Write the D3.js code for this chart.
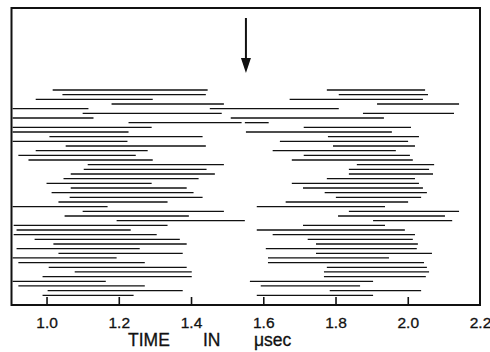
<!DOCTYPE html>
<html>
<head>
<meta charset="utf-8">
<script src="https://cdn.jsdelivr.net/npm/d3@7"></script>
<style>
  html, body { margin: 0; padding: 0; background: #fff; }
  svg { display: block; }
</style>
</head>
<body>
<div id="chart"></div>
<script>
// ---- data (time in microseconds), one row per trace, top to bottom ----
const timeTicks = [1.0, 1.2, 1.4, 1.6, 1.8, 2.0, 2.2];
const tickLabels = ["1.0", "1.2", "1.4", "1.6", "1.8", "2.0", "2.2"];
const arrowTime = 1.552;

const earlyStart = [1.017,1.044,0.970,1.180,0.906,1.100,0.906,1.227,0.906,0.906,
                    1.008,0.906,1.053,0.970,0.922,0.950,1.114,1.103,1.067,1.047,
                    1.000,1.067,1.014,1.064,1.033,0.906,1.100,1.050,1.194,0.909,
                    0.917,0.909,0.967,1.019,0.917,1.033,0.906,0.922,1.006,1.078,
                    0.989,0.906,0.922,1.003,0.989];
const earlyEnd   = [1.446,1.441,1.294,1.491,1.116,1.485,1.130,1.540,1.291,1.227,
                    1.432,1.224,1.441,1.280,1.247,1.294,1.491,1.443,1.466,1.421,
                    1.291,1.388,1.407,1.432,1.335,1.169,1.491,1.394,1.549,1.335,
                    1.233,1.305,1.369,1.388,1.258,1.377,1.194,1.272,1.388,1.402,
                    1.402,1.164,1.272,1.377,1.241];
const lateStart  = [1.776,1.809,1.673,1.915,1.452,1.876,1.510,1.549,1.712,1.552,
                    1.779,1.646,1.793,1.626,1.712,1.679,1.859,1.837,1.837,1.776,
                    1.679,1.710,1.770,1.801,1.662,1.582,1.837,1.807,1.904,1.710,
                    1.582,1.626,1.723,1.746,1.607,1.746,1.613,1.613,1.776,1.768,
                    1.768,1.563,1.593,1.784,1.582];
const lateEnd    = [2.048,2.056,2.042,2.142,1.809,2.128,1.934,1.615,2.009,1.956,
                    2.031,2.001,2.020,1.967,2.006,2.014,2.073,2.059,2.070,2.020,
                    2.031,2.042,2.053,2.037,2.001,1.937,2.142,2.103,2.123,1.937,
                    1.992,2.020,2.014,2.028,2.025,2.067,1.948,2.045,2.053,2.059,
                    2.050,1.904,1.868,2.037,1.904];

const W = 490, H = 352;
const frameL = 11.5, frameR = 480, frameT = 8, frameB = 305;

const svg = d3.select("#chart").append("svg")
  .attr("width", W).attr("height", H)
  .style("background", "#fff");

const x = d3.scaleLinear().domain([0.903, 2.2]).range([frameL, frameR]);
const rows = d3.range(earlyStart.length);
const y = d3.scaleLinear().domain([0, rows.length - 1]).range([90, 295.3]);

// segments
const segs = [];
rows.forEach(i => {
  segs.push({row: i, s: earlyStart[i], e: earlyEnd[i]});
  segs.push({row: i, s: lateStart[i], e: lateEnd[i]});
});

svg.append("g").selectAll("line").data(segs).join("line")
  .attr("x1", d => x(d.s)).attr("x2", d => x(d.e))
  .attr("y1", d => y(d.row)).attr("y2", d => y(d.row))
  .attr("stroke", "#111").attr("stroke-width", 1.3);

// frame
svg.append("rect")
  .attr("x", frameL).attr("y", frameT)
  .attr("width", frameR - frameL).attr("height", frameB - frameT)
  .attr("fill", "none").attr("stroke", "#111").attr("stroke-width", 2);

// axis with inward ticks
const axis = d3.axisBottom(x)
  .tickValues(timeTicks)
  .tickFormat((d, i) => tickLabels[i])
  .tickSizeInner(-8).tickSizeOuter(0);
const gAxis = svg.append("g").attr("transform", `translate(0,${frameB})`).call(axis);
gAxis.select(".domain").remove();
gAxis.selectAll(".tick line").attr("stroke", "#111").attr("stroke-width", 1.6)
  .filter(d => d > 2.1).remove();
gAxis.selectAll(".tick text")
  .attr("y", 23).attr("dy", null)
  .attr("fill", "#111")
  .attr("stroke", "#111").attr("stroke-width", 0.3)
  .style("font-family", "'Liberation Sans', Arial, sans-serif")
  .style("font-size", "15.5px");

// axis title
const titleFont = "'Liberation Sans', Arial, sans-serif";
[["TIME", 128], ["IN", 203], ["\u03bcsec", 254]].forEach(([t, px]) => {
  svg.append("text").attr("x", px).attr("y", 346)
    .attr("fill", "#111")
    .attr("stroke", "#111").attr("stroke-width", 0.3)
    .style("font-family", titleFont).style("font-size", "17.5px")
    .text(t);
});

// arrow
const ax = x(arrowTime);
svg.append("line").attr("x1", ax).attr("x2", ax).attr("y1", 18).attr("y2", 62)
  .attr("stroke", "#111").attr("stroke-width", 2);
svg.append("path")
  .attr("d", `M${ax - 5},58 L${ax + 5},58 L${ax},73 Z`)
  .attr("fill", "#111");
</script>
</body>
</html>
